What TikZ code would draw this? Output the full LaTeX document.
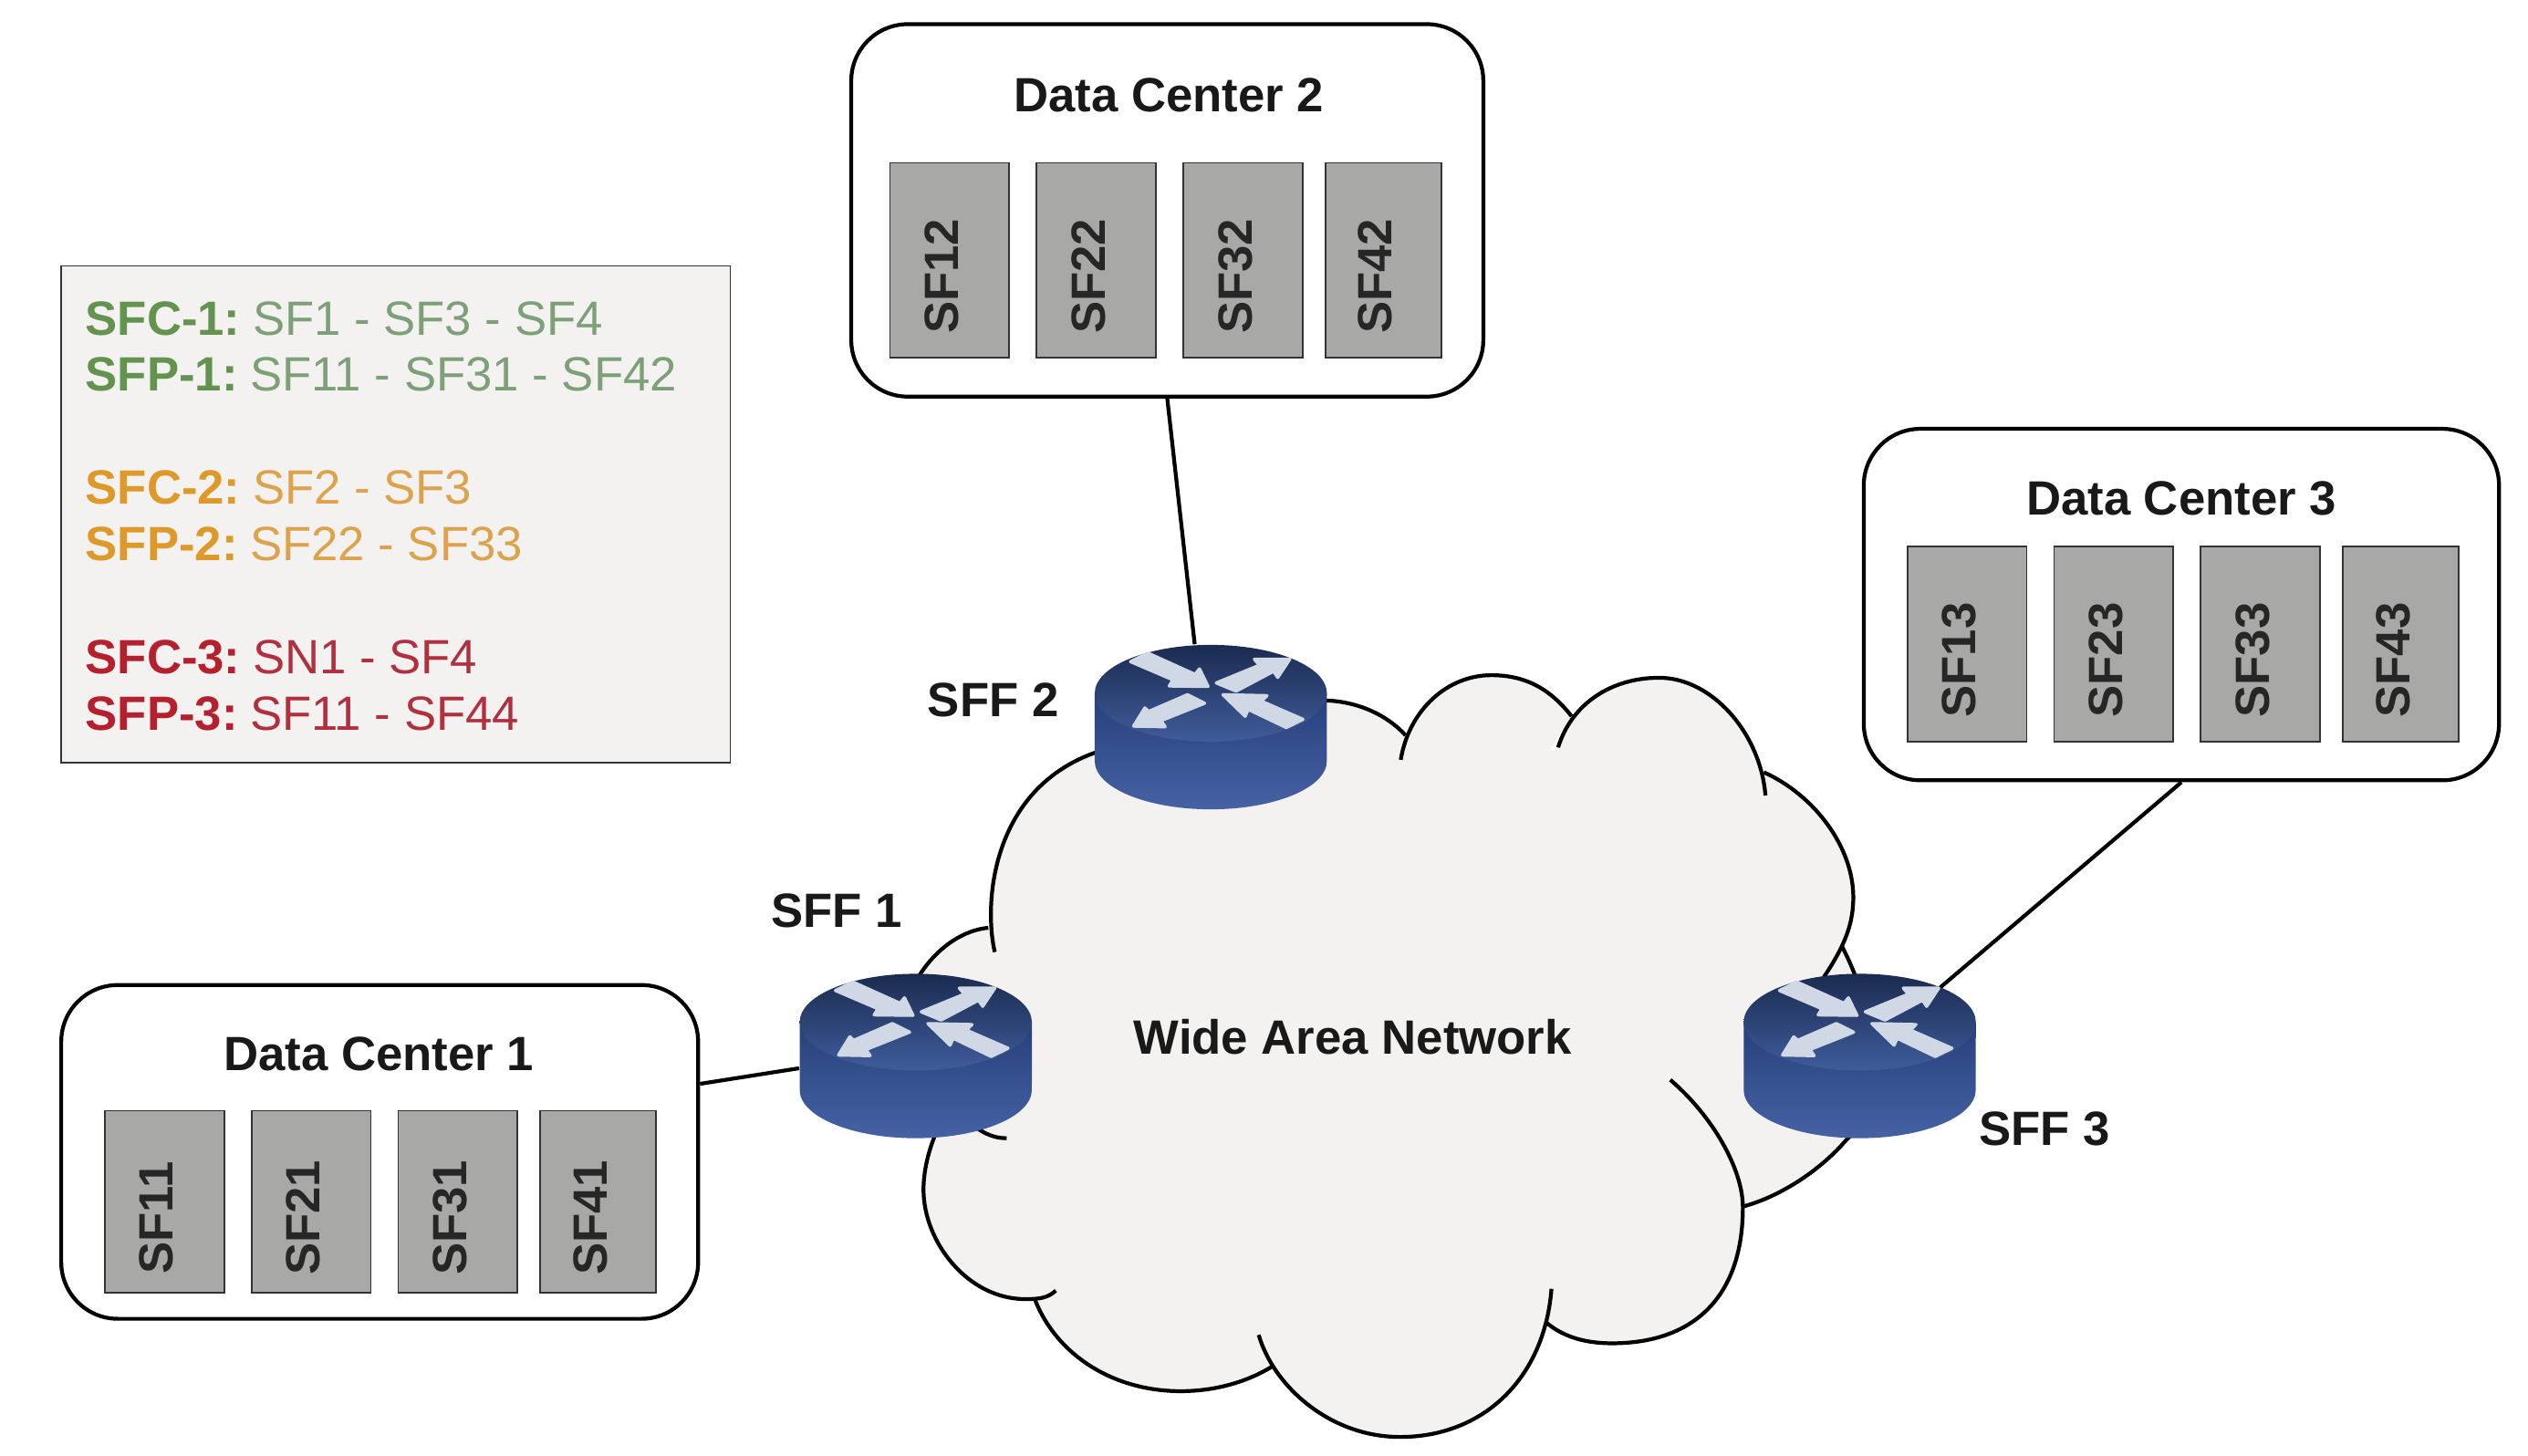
\documentclass[tikz,border=0pt]{standalone}
\usepackage{fontspec}
\setmainfont{Liberation Sans}
\usetikzlibrary{arrows, shapes.geometric}
\definecolor{cloudgrey}{HTML}{F3F2F0}
\definecolor{sfgrey}{HTML}{A8A9A7}
\definecolor{sfcgreen}{HTML}{63934F}
\definecolor{sfcgreenb}{HTML}{7DA078}
\definecolor{sfcorange}{HTML}{DD9A2A}
\definecolor{sfcorangeb}{HTML}{DDA24C}
\definecolor{sfcred}{HTML}{B5202E}
\definecolor{sfcredb}{HTML}{B03040}
\definecolor{routertop}{HTML}{1B2B50}
\definecolor{routermid}{HTML}{3F5C9B}
\definecolor{routerside}{HTML}{25407A}
\definecolor{routerlow}{HTML}{4662A4}
\definecolor{routerarrow}{HTML}{CFD8E4}
\newcommand{\sftext}[1]{\hspace{-1.7mm}\rotatebox{90}{#1\hspace{3.5mm}}}
\newcommand{\chainline}[3]{\textcolor{#1}{\textbf{#2}}\hspace{1.35mm}\textcolor{#1b}{#3}}
\newcommand{\cloudlobes}[2]{%
\path[#1] (810,435) .. controls (835,432) and (858,441) .. (871.7,456) #2;
\path[#1] (868.8,471.3) .. controls (874,440) and (898,418.8) .. (925,418.8) .. controls (947,418.8) and (962,428) .. (974.8,444.3) #2;
\path[#1] (966.4,463.6) .. controls (975,436) and (1000,420.4) .. (1029,420.4) .. controls (1062,420.4) and (1092,455) .. (1095,493.4) #2;
\path[#1] (1094,479) .. controls (1125,493) and (1149.5,525) .. (1149.5,556.6) .. controls (1149.5,575) and (1143,590) .. (1125,615) #2;
\path[#1] (1142.3,586.7) .. controls (1160,620) and (1175,680) .. (1145.3,706.9) .. controls (1130,725) and (1105,742) .. (1081,748.4) #2;
\path[#1] (1036,669.8) .. controls (1062,692) and (1081,725) .. (1081,748.8) .. controls (1081,805) and (1050,833.2) .. (999.8,833.2) .. controls (985,833.2) and (970,830) .. (958.5,819.8) #2;
\path[#1] (962.3,799.4) .. controls (958,855) and (920,891.3) .. (868.4,891.3) .. controls (825,891.3) and (790,860) .. (780.7,828) #2;
\path[#1] (788.7,847.8) .. controls (772,858) and (752,862.9) .. (732.3,862.9) .. controls (690,862.9) and (655,840) .. (641.8,805.8) #2;
\path[#1] (654.9,800.5) .. controls (650,805) and (645,805.8) .. (636,805.8) .. controls (600,805.8) and (572.8,770) .. (572.8,738) .. controls (572.8,720) and (580,700) .. (590,685) #2;
\path[#1] (617,590.5) .. controls (610,560) and (615,490) .. (678.8,467) -- (695,460) #2;
\path[#1] (565,615) .. controls (575,592) and (595,577) .. (613,575.5) #2;
\path[#1] (600,695) .. controls (608,702) and (615,706) .. (624.4,706) #2;
}
\newcommand{\routericon}[1]{%
\begin{scope}[shift={(#1.center)}]
\shade[top color=routerside, bottom color=routerlow] (-72,-21) -- (-72,21) arc[start angle=180, end angle=360, x radius=12.72mm, y radius=5.3mm] -- (72,-21) -- cycle;
\shade[top color=routertop, bottom color=routermid] (0,-21) ellipse [x radius=12.72mm, y radius=5.3mm];
\begin{scope}[shift={(0,-21)}, routerhead/.style={fill=routerarrow, draw=routerarrow, line width=1pt, line join=round}]
\path[routerhead] (-49.8,-19.6) -- (-39,-24.9) -- (-9.8,-11.7) -- (-7,-15.1) -- (-1.7,-4.2) -- (-25.8,-4.5) -- (-23.4,-8.3) -- cycle;
\path[routerhead] (3.4,-6.4) -- (30.2,-17.4) -- (27,-21.1) -- (49,-21.1) -- (41.5,-9.8) -- (38.9,-13.6) -- (15.7,-1.3) -- cycle;
\path[routerhead] (-3.8,6.2) -- (-14.5,.9) -- (-38.5,11.3) -- (-40.9,9.1) -- (-47.9,20.4) -- (-28.3,20.8) -- (-30.9,17) -- cycle;
\path[routerhead] (7.5,.9) -- (34.9,1.5) -- (31.3,4.9) -- (57.2,16.2) -- (46.8,21.3) -- (23.2,10) -- (21.3,14.3) -- cycle;
\end{scope}
\end{scope}
}
\tikzset{
dcbox/.style = {draw, line width=1.2pt, fill=white, rounded corners=6.2mm, inner sep=0pt},
sfbox/.style = {draw=black!80, line width=.5pt, fill=sfgrey, minimum width=13.08mm, minimum height=21.38mm, inner sep=0pt, font=\fontsize{15}{18}\selectfont\bfseries, text=black!85},
sfboxlast/.style = {sfbox, minimum width=12.72mm, xshift=-.71mm},
boldlabel/.style = {font=\fontsize{15}{18}\selectfont\bfseries, text=black!90, inner sep=0pt},
routerbox/.style = {minimum width=25.44mm, minimum height=18.02mm, inner sep=0pt}
}

\begin{document}
\begin{tikzpicture}[x=.1767mm, y=-.1767mm, node distance = 16.08mm]
\useasboundingbox (0,0) rectangle (1568,903.1);
% cloud
\fill[cloudgrey] (680,470) -- (870,470) -- (970,465) -- (1095,490) -- (1149,556) -- (1130,700) -- (1081,748) -- (1000,830) -- (958,818) -- (868,885) -- (785,845) -- (732,860) -- (645,803) -- (575,738) -- (590,640) -- (617,590) -- cycle;
\cloudlobes{fill=cloudgrey}{-- (850,640) -- cycle}
\cloudlobes{draw=black, line width=1.2pt}{}
\node[draw=black!80, line width=.5pt, fill=cloudgrey, minimum width=73.33mm, minimum height=54.42mm] (legend) at (245.5,319) {};
\node[text width=68.03mm, align=flush left, inner sep=0pt, font=\fontsize{15}{17.6}\selectfont] (legendtext) at (245.5,320) {%
\chainline{sfcgreen}{SFC-1:}{SF1 - SF3 - SF4}\\
\chainline{sfcgreen}{SFP-1:}{SF11 - SF31 - SF42}\\[17.6pt]
\chainline{sfcorange}{SFC-2:}{SF2 - SF3}\\
\chainline{sfcorange}{SFP-2:}{SF22 - SF33}\\[17.6pt]
\chainline{sfcred}{SFC-3:}{SN1 - SF4}\\
\chainline{sfcred}{SFP-3:}{SF11 - SF44}};
% data centers
\node[dcbox, minimum width=69.27mm, minimum height=40.82mm] (dc2) at (724,130.5) {};
\node[dcbox, minimum width=69.62mm, minimum height=38.52mm] (dc3) at (1353,375) {};
\node[dcbox, minimum width=69.8mm, minimum height=36.58mm] (dc1) at (235.5,714.5) {};
\node[boldlabel] (dc2label) at (725,59) {Data Center 2};
\node[boldlabel] (dc3label) at (1353,309) {Data Center 3};
\node[boldlabel] (dc1label) at (235,654) {Data Center 1};
\node[sfbox] (sf12) at (589,161.5) {\sftext{SF12}};
\node[sfbox] (sf22) [right of = sf12] {\sftext{SF22}};
\node[sfbox] (sf32) [right of = sf22] {\sftext{SF32}};
\node[sfboxlast] (sf42) [right of = sf32] {\sftext{SF42}};
\node[sfbox] (sf13) at (1220,399.5) {\sftext{SF13}};
\node[sfbox] (sf23) [right of = sf13] {\sftext{SF23}};
\node[sfbox] (sf33) [right of = sf23] {\sftext{SF33}};
\node[sfboxlast] (sf43) [right of = sf33] {\sftext{SF43}};
\node[sfbox, minimum height=19.97mm] (sf11) at (102,745.5) {\sftext{SF11}};
\node[sfbox, minimum height=19.97mm] (sf21) [right of = sf11] {\sftext{SF21}};
\node[sfbox, minimum height=19.97mm] (sf31) [right of = sf21] {\sftext{SF31}};
\node[sfboxlast, minimum height=19.97mm] (sf41) [right of = sf31] {\sftext{SF41}};
% routers
\node[routerbox] (sff2) at (751,451) {};
\node[routerbox] (sff1) at (568,655) {};
\node[routerbox] (sff3) at (1153.5,655) {};
\path[draw, line width=1.2pt] (dc2.south) -- (sff2.101);
\path[draw, line width=1.2pt] (dc1.12) -- (sff1.186);
\path[draw, line width=1.2pt] (dc3.south) -- (sff3.center);
\routericon{sff2}
\routericon{sff1}
\routericon{sff3}
\node[boldlabel] (sff2label) at (616,434) {SFF 2};
\node[boldlabel] (sff1label) at (519,565) {SFF 1};
\node[boldlabel] (sff3label) at (1268,700) {SFF 3};
\node[boldlabel] (wan) at (839,643) {Wide Area Network};
\end{tikzpicture}
\end{document}
